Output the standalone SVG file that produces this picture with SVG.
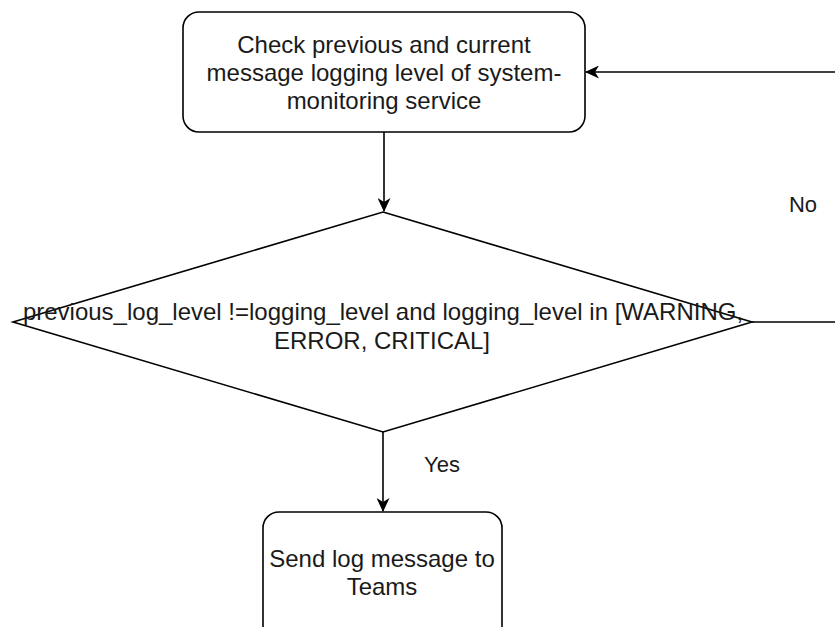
<svg xmlns="http://www.w3.org/2000/svg" width="835" height="627" viewBox="0 0 835 627">
<style>
.shape{fill:#ffffff;stroke:#000000;stroke-width:1.6}
.edge{fill:none;stroke:#000000;stroke-width:1.6}
.t{font-family:"Liberation Sans",Arial,sans-serif;font-size:24px;fill:#1a1a1a;text-anchor:middle}
.lbl{font-family:"Liberation Sans",Arial,sans-serif;font-size:22px;fill:#1a1a1a;text-anchor:middle}
</style>
<defs>
<marker id="arr" viewBox="0 0 14 13" refX="13" refY="6.5" markerWidth="14" markerHeight="13" markerUnits="userSpaceOnUse" orient="auto">
<path d="M0,0 L14,6.5 L0,13 L4,6.5 Z" fill="#000000"/>
</marker>
</defs>
<rect width="835" height="627" fill="#ffffff"/>
<g id="connectors">
<path class="edge" d="M384,132 L384,211" marker-end="url(#arr)"/>
<path class="edge" d="M383,432 L383,511" marker-end="url(#arr)"/>
<path class="edge" d="M752,322 L840,322"/>
<path class="edge" d="M840,72 L586,72" marker-end="url(#arr)"/>
<text class="lbl" x="442" y="472">Yes</text>
<text class="lbl" x="803" y="212">No</text>
</g>
<g id="check">
<rect class="shape" x="183" y="12" width="402" height="120" rx="16" ry="16"/>
<text class="t" x="384" y="53">Check previous and current</text>
<text class="t" x="384" y="81">message logging level of system-</text>
<text class="t" x="384" y="109">monitoring service</text>
</g>
<g id="decision">
<polygon class="shape" points="383,212 752,322 383,432 13,322"/>
<text class="t" x="383" y="320">previous_log_level !=logging_level and logging_level in [WARNING,</text>
<text class="t" x="382" y="349">ERROR, CRITICAL]</text>
</g>
<g id="send">
<rect class="shape" x="263" y="512" width="239" height="140" rx="16" ry="16"/>
<text class="t" x="382" y="567">Send log message to</text>
<text class="t" x="382" y="595">Teams</text>
</g>
</svg>
